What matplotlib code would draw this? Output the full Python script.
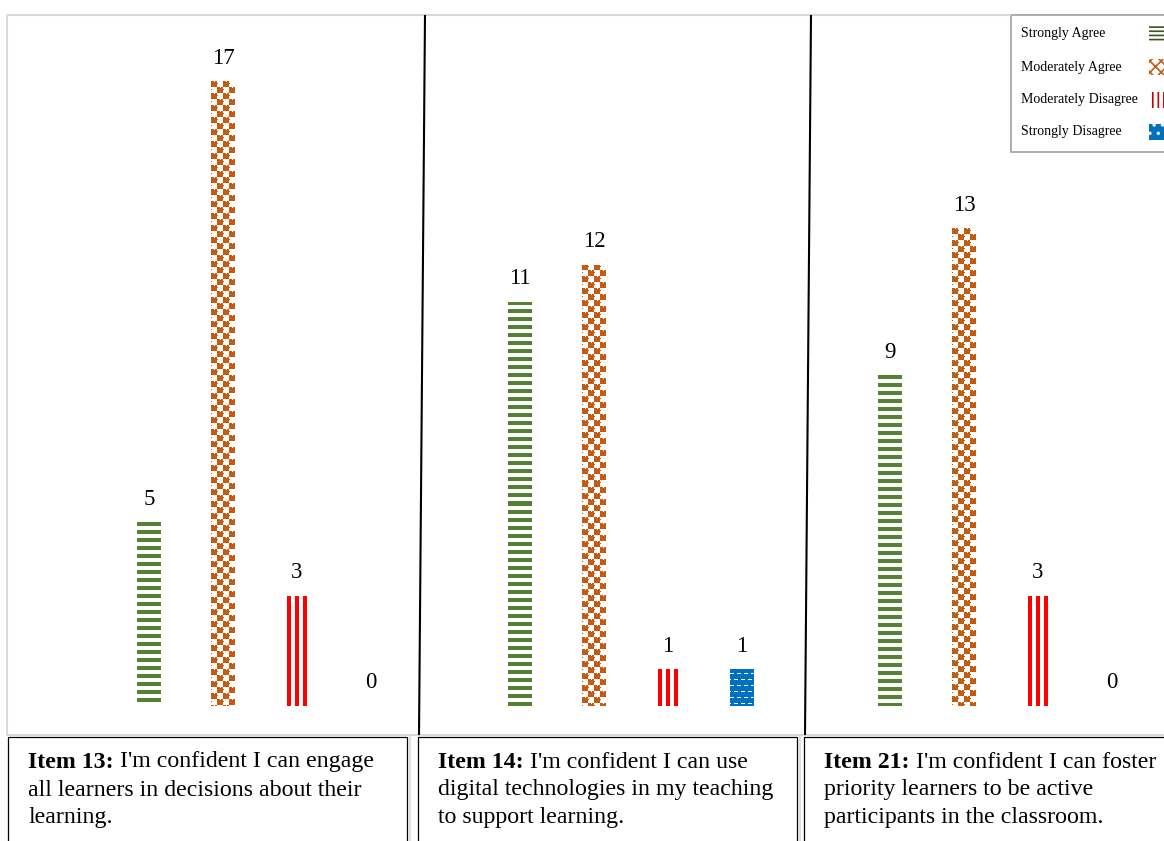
import numpy as np
import matplotlib
matplotlib.use('Agg')
import matplotlib.pyplot as plt
from matplotlib.patches import Rectangle
from matplotlib.lines import Line2D
from matplotlib.colors import to_rgba

plt.rcParams['font.family'] = ['Liberation Serif', 'DejaVu Serif']

# survey responses per item
categories = ['Strongly Agree', 'Moderately Agree', 'Moderately Disagree', 'Strongly Disagree']
item13_counts = [5, 17, 3, 0]
item14_counts = [11, 12, 1, 1]
item21_counts = [9, 13, 3, 0]

item_labels = ['Item 13:', 'Item 14:', 'Item 21:']
item_text = [
    [" I'm confident I can engage", "all learners in decisions about their", "learning."],
    [" I'm confident I can use", "digital technologies in my teaching", "to support learning."],
    [" I'm confident I can foster", "priority learners to be active", "participants in the classroom."],
]

green = '#548235'
orange = '#C55A11'
red = '#FF0000'
blue = '#0070C0'

W, H = 1164, 841
fig = plt.figure(figsize=(W / 100, H / 100), dpi=100)


def fx(x):
    return x / W


def fy(y):
    return 1 - y / H


UNIT = 74          # pixels between bar slots
PX_PER_COUNT = 36.76
BASE = 706
TOP = 15
BAR_PX = 24


def pattern(kind, h_px, w_px):
    ii, jj = np.indices((h_px, w_px))
    img = np.ones((h_px, w_px, 4))
    if kind == 'stripes':
        img[(ii % 8) < 4] = to_rgba(green)
    elif kind == 'checker':
        cell = 6
        on = ((ii // cell + jj // cell) % 2 == 0)
        # small notches so the cells look rounded
        on |= ((ii % cell == 2) & (jj % cell == 0))
        on &= ~((ii % cell == 0) & (jj % cell == 3) & on)
        img[on] = to_rgba(orange)
    elif kind == 'weave':
        img[:] = to_rgba(blue)
        row = ii // 6
        gap = ((ii % 6) == 4) & (((jj + 3 * (row % 2)) % 7) < 4)
        img[gap] = (1, 1, 1, 1)
    return img


def textured_bar(ax, x, h, kind):
    w = BAR_PX / UNIT
    bar = ax.bar(x, h, width=w, facecolor='none', linewidth=0)[0]
    hp = max(int(round(h * PX_PER_COUNT)), 1)
    im = ax.imshow(pattern(kind, hp, BAR_PX), extent=(x - w / 2, x + w / 2, 0, h),
                   origin='upper', interpolation='nearest', aspect='auto', zorder=2)
    im.set_clip_path(bar)


def draw_panel(left, right, first, counts):
    ax = fig.add_axes([fx(left), fy(BASE), (right - left) / W, (BASE - TOP) / H])
    if counts[0]:
        textured_bar(ax, 0, counts[0], 'stripes')
    if counts[1]:
        textured_bar(ax, 1, counts[1], 'checker')
    if counts[2]:
        # three thin vertical stripes make up the red bar
        for off in (-8, 0, 8):
            ax.bar(2 + off / UNIT, counts[2], width=4 / UNIT, color=red, linewidth=0)
    if counts[3]:
        textured_bar(ax, 3, counts[3], 'weave')
    for i, v in enumerate(counts):
        ax.annotate(str(v), (i, v), xytext=(0, 23), textcoords='offset pixels',
                    ha='center', va='center', fontsize=16.5)
    ax.set_xlim((left - first) / UNIT, (right - first) / UNIT)
    ax.set_ylim(0, (BASE - TOP) / PX_PER_COUNT)
    ax.axis('off')
    return ax


draw_panel(8, 420, 149, item13_counts)
draw_panel(420, 808, 520, item14_counts)
draw_panel(808, 1164, 890, item21_counts)


def line(x0, y0, x1, y1, color, lw):
    fig.add_artist(Line2D([fx(x0), fx(x1)], [fy(y0), fy(y1)], color=color, lw=lw,
                          solid_capstyle='butt'))


# outer frame
line(7, 15, 1011, 15, '#d9d9d9', 1.5)
line(7, 15, 7, 736, '#d9d9d9', 1.5)
line(7, 735, 1164, 735, '#d9d9d9', 1.5)
line(425, 15, 419, 735, 'black', 1.5)
line(811, 15, 805, 735, 'black', 1.5)
line(410, 736, 410, 841, '#d9d9d9', 1.2)
line(800, 736, 800, 841, '#d9d9d9', 1.2)

# caption boxes
for x0, x1 in [(8, 407), (418, 797), (804, 1190)]:
    fig.add_artist(Rectangle((fx(x0), fy(860)), fx(x1) - fx(x0), fy(737) - fy(860),
                             transform=fig.transFigure, facecolor='none',
                             edgecolor='black', lw=0.9))

renderer = fig.canvas.get_renderer()
for tx, label, lines in zip([28, 438, 824], item_labels, item_text):
    t = fig.text(fx(tx), fy(762), label, fontsize=17.2, fontweight='bold', va='center')
    bw = t.get_window_extent(renderer).width
    fig.text(fx(tx) + bw / W, fy(762), lines[0], fontsize=17.2, va='center')
    for k, s in enumerate(lines[1:]):
        fig.text(fx(tx), fy(790 + 28 * k), s, fontsize=17.2, va='center')

# legend
fig.add_artist(Rectangle((fx(1011), fy(152)), fx(1190) - fx(1011), fy(15) - fy(152),
                         transform=fig.transFigure, facecolor='white',
                         edgecolor='#a0a0a0', lw=1.2))
swatches = [
    ('white', '#375623', '----'),
    ('white', orange, 'xxx'),
    ('white', '#C00000', '|||'),
    (blue, 'white', '..'),
]
for y, name, (face, edge, hatch) in zip([34, 67, 100, 132], categories, swatches):
    fig.text(fx(1021), fy(y), name, fontsize=10, va='center')
    with plt.rc_context({'hatch.linewidth': 1.2}):
        sw = Rectangle((fx(1149), fy(y + 8)), fx(1170) - fx(1149), fy(y - 8) - fy(y + 8),
                       transform=fig.transFigure, facecolor=face, edgecolor=edge,
                       hatch=hatch, lw=0)
    fig.add_artist(sw)

fig.savefig('out.png', dpi=100)
